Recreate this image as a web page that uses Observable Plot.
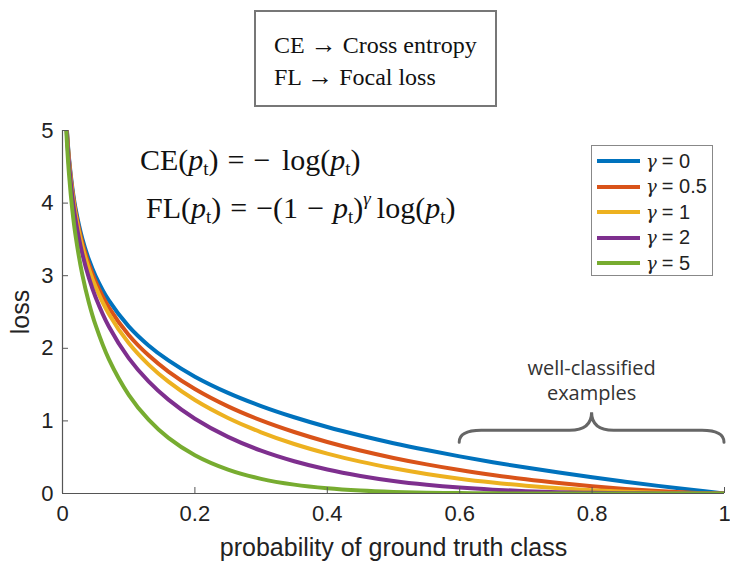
<!DOCTYPE html>
<html>
<head>
<meta charset="utf-8">
<script src="https://cdn.jsdelivr.net/npm/d3@7"></script>
<script src="https://cdn.jsdelivr.net/npm/@observablehq/plot@0.6"></script>
<style>
  body { margin: 0; background: #fff; }
  #wrap { position: relative; width: 730px; height: 561px; font-family: "Liberation Sans", Arial, sans-serif; color: #222; }
  .ov { position: absolute; }
  #defbox { left: 254px; top: 10px; width: 243px; height: 97px; border: 2px solid #777; box-sizing: border-box;
            font-family: "Liberation Serif", "Times New Roman", serif; font-size: 24px; color: #111; line-height: 31px; padding: 17px 0 0 18px; }
  #defbox .arr { font-size: 26px; }
  .formula { font-family: "Liberation Serif", "Times New Roman", serif; font-size: 30px; color: #111; white-space: nowrap; }
  .formula i { font-style: italic; }
  .formula .op { margin: 0 9px; }
  .formula .neg { margin-right: 4px; }
  .formula sub { font-size: 19px; vertical-align: -5px; line-height: 0; }
  .formula sup { font-size: 19px; vertical-align: 13px; line-height: 0; font-style: italic; margin-right: 6px; }
  #legend { left: 591px; top: 145px; width: 122px; height: 131px; border: 1px solid #888; box-sizing: border-box; background: #fff; }
  .lrow { position: absolute; left: 5px; height: 24px; display: flex; align-items: center; font-size: 20px; color: #222; white-space: nowrap; }
  .lrow .sw { width: 43px; height: 4px; margin-right: 6px; }
  .lrow .g { font-family: "DejaVu Serif", serif; font-style: italic; font-size: 18px; margin-right: 5px; }
  g[aria-label="x-axis label"], g[aria-label="y-axis label"] { font-size: 25px; }
</style>
</head>
<body>
<div id="wrap">
  <div id="plot"></div>
  <div class="ov" id="defbox">CE <span class="arr">&rarr;</span> Cross entropy<br>FL <span class="arr">&rarr;</span> Focal loss</div>
  <div class="ov formula" style="left:140px; top:143px;">CE(<i>p</i><sub>t</sub>)<span class="op">=</span><span class="neg">&minus;</span> log(<i>p</i><sub>t</sub>)</div>
  <div class="ov formula" style="left:146px; top:191px;">FL(<i>p</i><sub>t</sub>)<span class="op">=</span>&minus;(1<span class="op">&minus;</span><i>p</i><sub>t</sub>)<sup>&gamma;</sup>log(<i>p</i><sub>t</sub>)</div>
  <div class="ov" id="legend"></div>
</div>
<script>
// probability of ground truth class (sample positions)
const p = [0.005, 0.0067, 0.01, 0.015, 0.02, 0.03, 0.04, 0.05, 0.07, 0.1, 0.13, 0.16, 0.2, 0.25, 0.3, 0.35, 0.4, 0.45, 0.5, 0.55, 0.6, 0.65, 0.7, 0.75, 0.8, 0.85, 0.9, 0.95, 1.0];
// loss values read for each gamma
const lossG0   = [5.298, 5.000, 4.605, 4.200, 3.912, 3.507, 3.219, 2.996, 2.659, 2.303, 2.040, 1.833, 1.609, 1.386, 1.204, 1.050, 0.916, 0.799, 0.693, 0.598, 0.511, 0.431, 0.357, 0.288, 0.223, 0.163, 0.105, 0.0513, 0];
const lossG05  = [5.285, 4.983, 4.582, 4.168, 3.873, 3.454, 3.154, 2.920, 2.564, 2.184, 1.903, 1.680, 1.439, 1.200, 1.007, 0.847, 0.710, 0.592, 0.490, 0.401, 0.323, 0.255, 0.195, 0.144, 0.0998, 0.0629, 0.0333, 0.0115, 0];
const lossG1   = [5.272, 4.966, 4.559, 4.137, 3.834, 3.402, 3.090, 2.846, 2.473, 2.072, 1.775, 1.540, 1.287, 1.040, 0.843, 0.682, 0.550, 0.439, 0.347, 0.269, 0.204, 0.151, 0.107, 0.072, 0.0446, 0.0244, 0.0105, 0.0026, 0];
const lossG2   = [5.245, 4.933, 4.514, 4.075, 3.757, 3.300, 2.967, 2.704, 2.300, 1.865, 1.544, 1.293, 1.030, 0.780, 0.590, 0.444, 0.330, 0.242, 0.173, 0.121, 0.0817, 0.0528, 0.0321, 0.0180, 0.0089, 0.0037, 0.0011, 0.0001, 0];
const lossG5   = [5.166, 4.834, 4.379, 3.895, 3.536, 3.011, 2.625, 2.318, 1.850, 1.360, 1.017, 0.766, 0.527, 0.329, 0.202, 0.122, 0.0713, 0.0402, 0.0217, 0.0110, 0.0052, 0.0023, 0.0009, 0.0003, 0.0001, 0, 0, 0, 0];

const gammaLabels = ["0", "0.5", "1", "2", "5"];
const seriesColors = ["#0072BD", "#D95319", "#EDB120", "#7E2F8E", "#77AC30"];
const xTicks = [0, 0.2, 0.4, 0.6, 0.8, 1];
const xTickLabels = ["0", "0.2", "0.4", "0.6", "0.8", "1"];
const yTicks = [0, 1, 2, 3, 4, 5];
const yTickLabels = ["0", "1", "2", "3", "4", "5"];
const braceRange = [0.6, 1];
const braceLoss = 0.7;
const braceText = ["well-classified", "examples"];

const allSeries = [lossG0, lossG05, lossG1, lossG2, lossG5];
const rows = [];
allSeries.forEach((s, k) => s.forEach((v, i) => rows.push({p: p[i], loss: v, gamma: gammaLabels[k]})));

function brace(index, scales) {
  const x0 = scales.x(braceRange[0]), x1 = scales.x(braceRange[1]);
  const xm = (x0 + x1) / 2;
  const yb = scales.y(braceLoss);
  const ya = yb - 12, yt = yb - 30;
  const g = d3.create("svg:g");
  g.append("path")
    .attr("d", `M${x0},${yb} Q${x0},${ya} ${x0 + 22},${ya} L${xm - 22},${ya} Q${xm},${ya} ${xm},${yt} Q${xm},${ya} ${xm + 22},${ya} L${x1 - 22},${ya} Q${x1},${ya} ${x1},${yb}`)
    .attr("fill", "none").attr("stroke", "#666").attr("stroke-width", 3).attr("stroke-linecap", "round");
  braceText.forEach((t, i) => {
    g.append("text").attr("x", xm).attr("y", yt - 37 + i * 25)
      .attr("text-anchor", "middle")
      .attr("font-family", "'Open Sans', sans-serif").attr("font-size", 20).attr("fill", "#333")
      .text(t);
  });
  return g.node();
}

const chart = Plot.plot({
  width: 730,
  height: 561,
  marginLeft: 62,
  marginRight: 6,
  marginTop: 130,
  marginBottom: 68,
  style: {fontFamily: "'Liberation Sans', Arial, sans-serif", color: "#222", background: "#fff", overflow: "visible"},
  x: {domain: [0, 1]},
  y: {domain: [0, 5]},
  color: {domain: gammaLabels, range: seriesColors},
  marks: [
    Plot.line(rows, {x: "p", y: "loss", z: "gamma", stroke: "gamma", strokeWidth: 4, curve: "catmull-rom", clip: true}),
    Plot.ruleY([0], {stroke: "#555", strokeWidth: 1.2}),
    Plot.ruleX([0], {stroke: "#555", strokeWidth: 1.2}),
    Plot.axisX({ticks: xTicks, tickFormat: (d, i) => xTickLabels[i], tickSize: -6, tickPadding: 18, fontSize: 22, stroke: "#555",
                label: "probability of ground truth class", labelAnchor: "center", labelArrow: "none", labelOffset: 62}),
    Plot.axisY({ticks: yTicks, tickFormat: (d, i) => yTickLabels[i], tickSize: -6, tickPadding: 15, fontSize: 22, stroke: "#555",
                label: "loss", labelAnchor: "center", labelArrow: "none", labelOffset: 51}),
    brace
  ]
});
document.getElementById("plot").appendChild(chart);

const legend = document.getElementById("legend");
gammaLabels.forEach((g, i) => {
  const r = document.createElement("div");
  r.className = "lrow";
  r.style.top = (3 + i * 25.5) + "px";
  r.innerHTML = `<span class="sw" style="background:${seriesColors[i]}"></span><span class="g">&gamma;</span>= ${g}`;
  legend.appendChild(r);
});
</script>
</body>
</html>
